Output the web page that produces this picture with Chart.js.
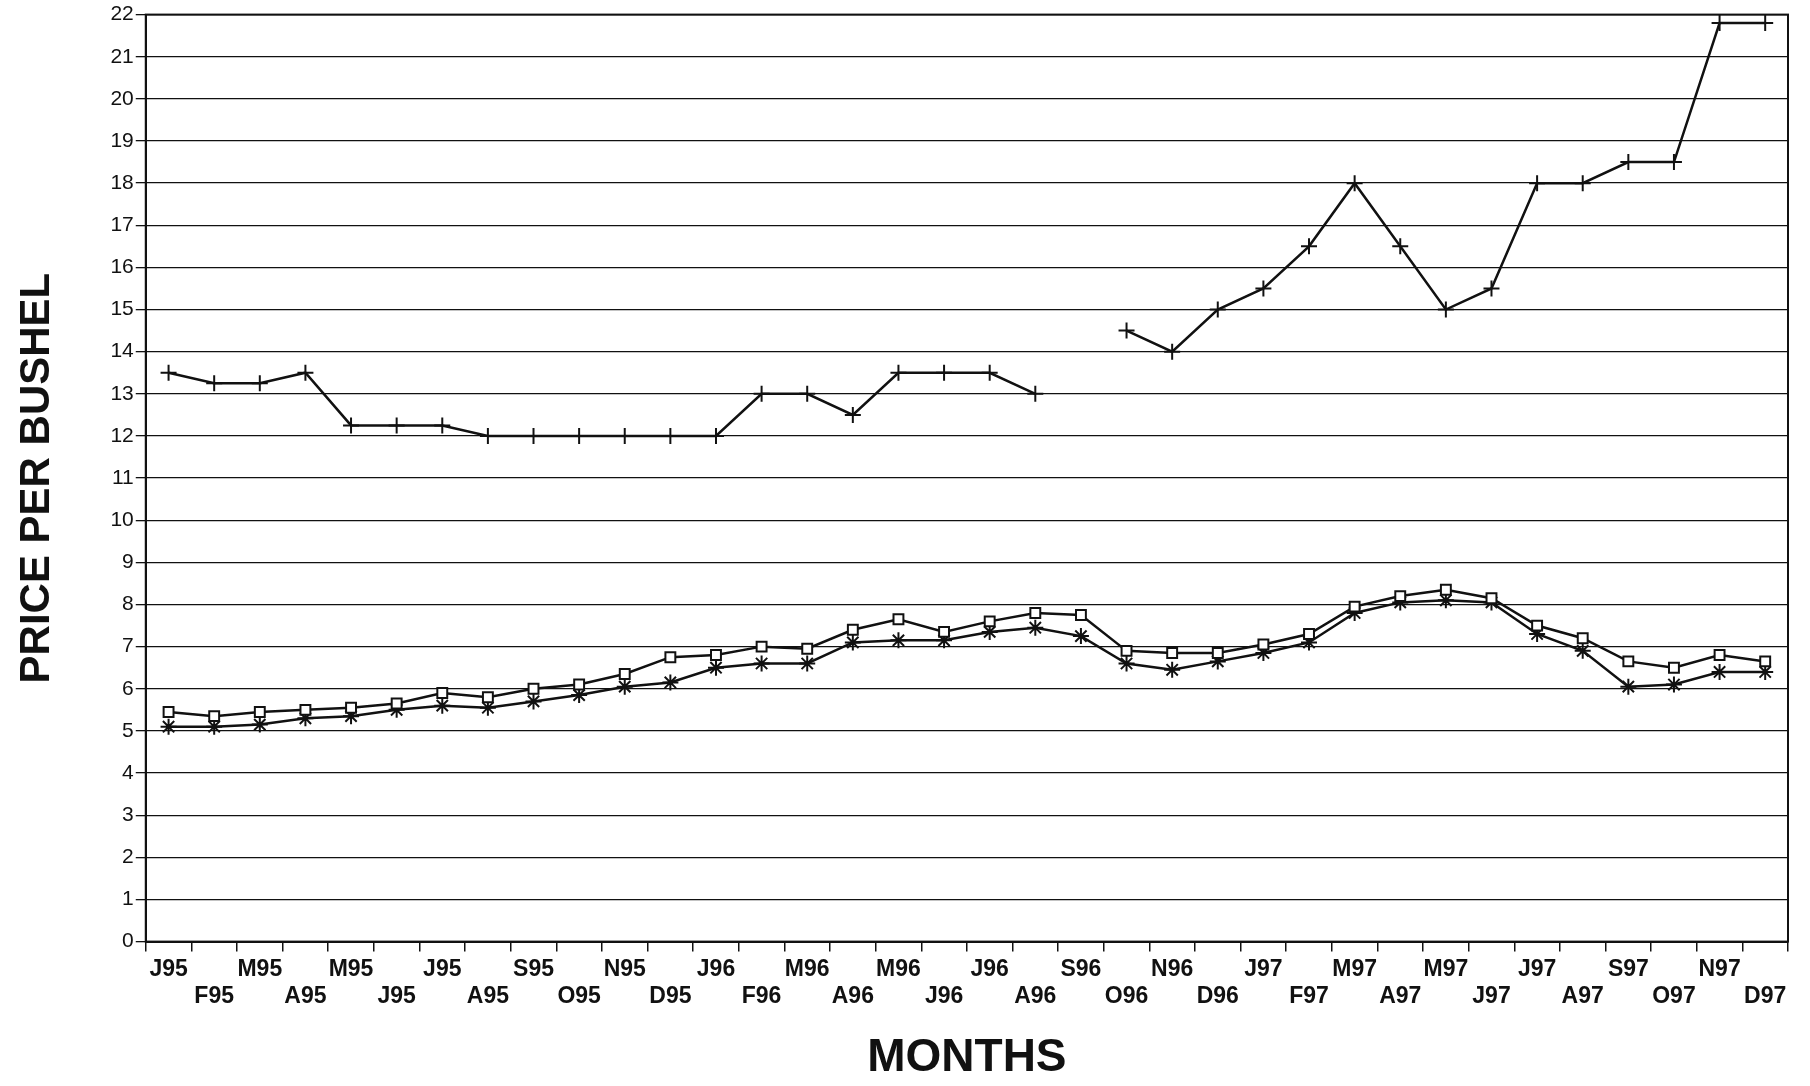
<!DOCTYPE html>
<html><head><meta charset="utf-8">
<script src="https://cdn.jsdelivr.net/npm/chart.js@4/dist/chart.umd.min.js"></script>
<style>html,body{margin:0;background:#fff}#w{width:1810px;height:1086px}</style>
</head><body><div id="w"><canvas id="c"></canvas></div>
<script>
const months=["J95","F95","M95","A95","M95","J95","J95","A95","S95","O95","N95","D95","J96","F96","M96","A96","M96","J96","J96","A96","S96","O96","N96","D96","J97","F97","M97","A97","M97","J97","J97","A97","S97","O97","N97","D97"];
const plusSeries=[13.5,13.25,13.25,13.5,12.25,12.25,12.25,12,12,12,12,12,12,13,13,12.5,13.5,13.5,13.5,13,null,14.5,14,15,15.5,16.5,18,16.5,15,15.5,18,18,18.5,18.5,21.8,21.8];
const squareSeries=[5.45,5.35,5.45,5.5,5.55,5.65,5.9,5.8,6.0,6.1,6.35,6.75,6.8,7.0,6.95,7.4,7.65,7.35,7.6,7.8,7.75,6.9,6.85,6.85,7.05,7.3,7.95,8.2,8.35,8.15,7.5,7.2,6.65,6.5,6.8,6.65];
const starSeries=[5.1,5.1,5.15,5.3,5.35,5.5,5.6,5.55,5.7,5.85,6.05,6.15,6.5,6.6,6.6,7.1,7.15,7.15,7.35,7.45,7.25,6.6,6.45,6.65,6.85,7.1,7.8,8.05,8.1,8.05,7.3,6.9,6.05,6.1,6.4,6.4];
const labels=months.map((m,i)=>i%2===0?[m,""]:["",m]);
const ds=(d,style,r)=>({data:d,borderColor:'#111',backgroundColor:'#fff',borderWidth:2.5,pointStyle:style,pointRadius:r,pointBorderColor:'#111',pointBorderWidth:2,tension:0,spanGaps:false});
new Chart(document.getElementById('c'),{type:'line',
data:{labels,datasets:[ds(plusSeries,'cross',8),ds(squareSeries,'rect',7),ds(starSeries,'star',8)]},
options:{responsive:true,maintainAspectRatio:false,animation:false,
layout:{padding:{top:12,right:22,bottom:0,left:8}},
plugins:{legend:{display:false},tooltip:{enabled:false}},
scales:{
x:{offset:true,grid:{drawOnChartArea:false,offset:true,color:'#111',tickLength:10,lineWidth:1.5},border:{color:'#111',width:2},
 ticks:{color:'#111',font:{family:'Liberation Sans',size:23,weight:'bold'},lineHeight:1.45,maxRotation:0,autoSkip:false,padding:4},
 title:{display:true,text:'MONTHS',color:'#111',font:{family:'Liberation Sans',size:46,weight:'bold'},padding:{top:16,bottom:0}}},
y:{min:0,max:22,grid:{color:'#111',lineWidth:1.3,tickLength:10},border:{color:'#111',width:2},
 ticks:{stepSize:1,color:'#111',font:{family:'Liberation Sans',size:21},padding:2},
 title:{display:true,text:'PRICE PER BUSHEL',color:'#111',font:{family:'Liberation Sans',size:42,weight:'bold'},padding:{bottom:46}}}
}},
plugins:[{id:'box',afterDraw(c){const a=c.chartArea,x=c.ctx;x.save();x.strokeStyle='#111';x.lineWidth=2;x.strokeRect(a.left,a.top,a.width,a.height);x.restore();}}]
});
</script></body></html>
